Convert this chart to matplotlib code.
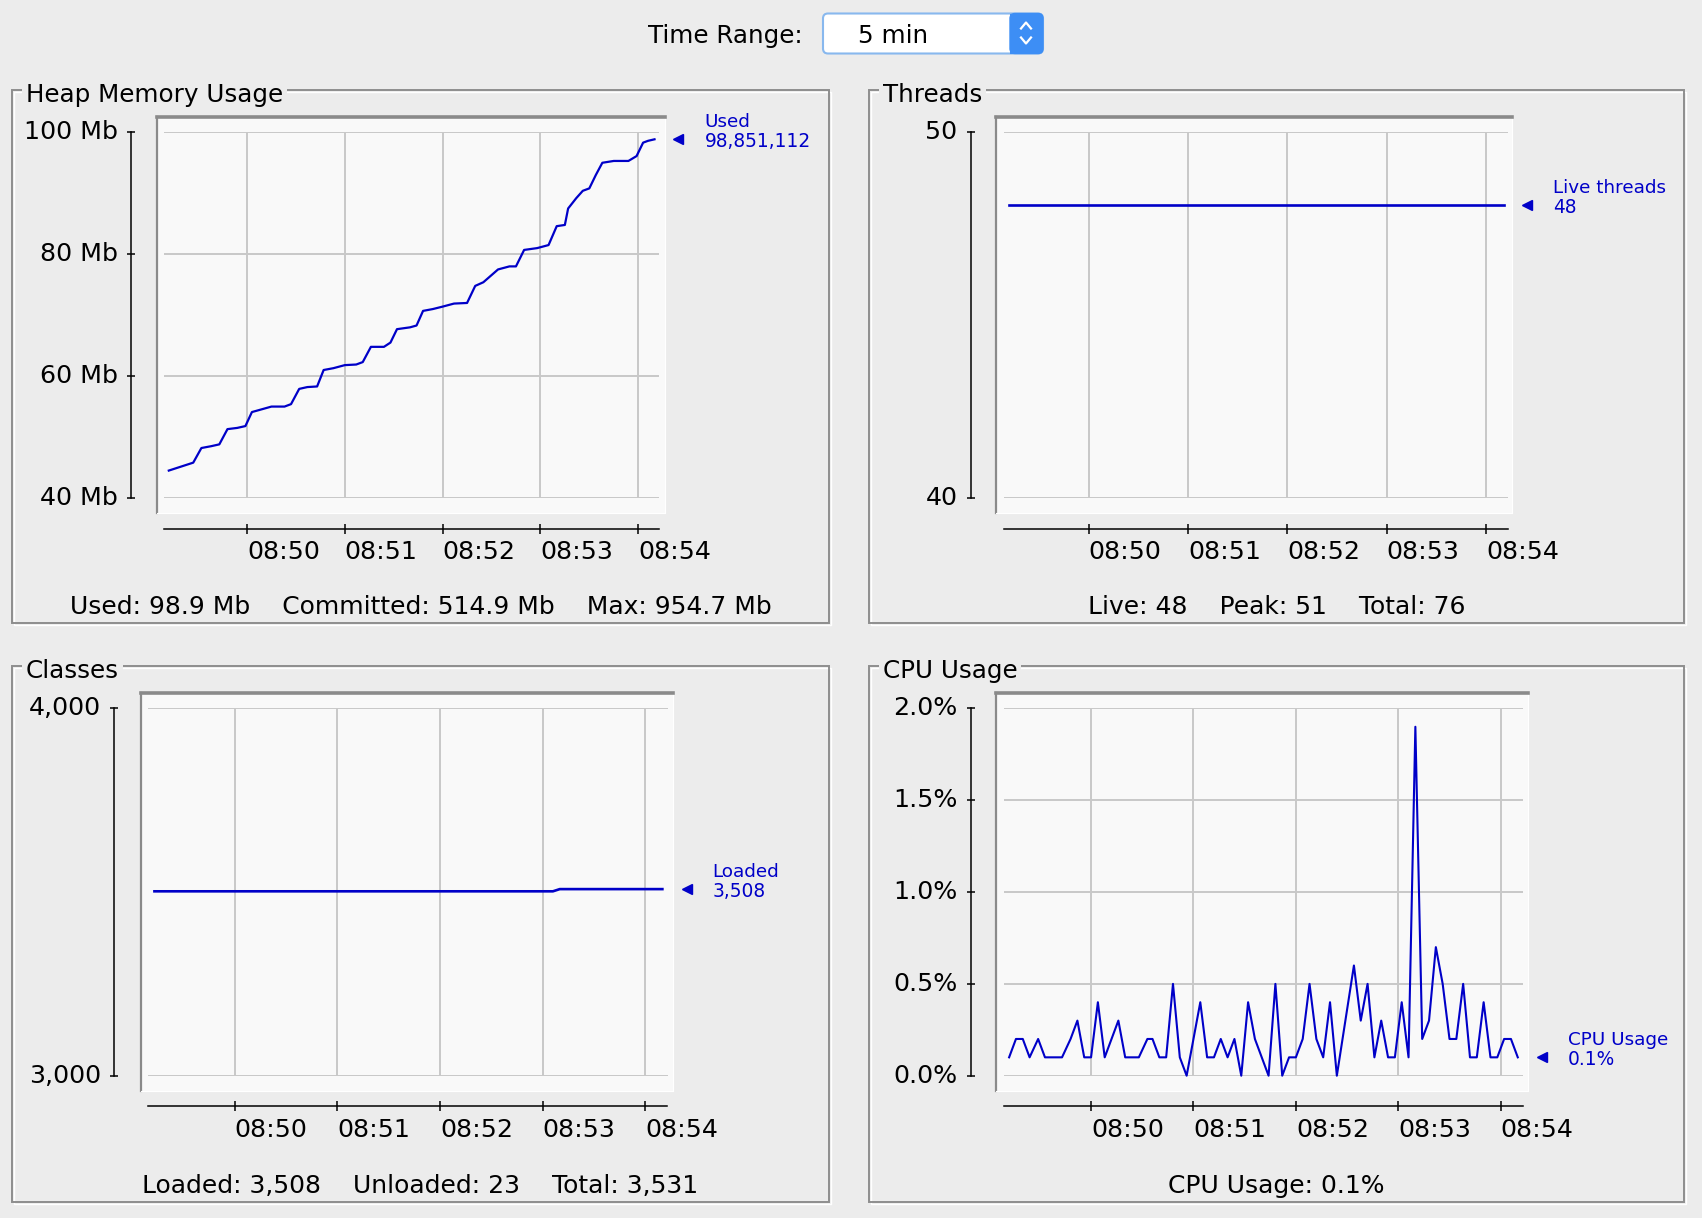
import pandas as pd
import matplotlib
matplotlib.use('Agg')
import matplotlib.pyplot as plt
from matplotlib import transforms
from matplotlib.patches import Rectangle, FancyBboxPatch
from matplotlib.lines import Line2D

plt.rcParams['font.family'] = ['DejaVu Sans']

# time axis: seconds after 08:49:00
day = '2024-01-01 '
t_start = pd.Timestamp(day + '08:49:00')
minute_ticks = ['08:50', '08:51', '08:52', '08:53', '08:54']
x_range = [9, 313]
time_range = '5 min'

# heap memory used (Mb)
heap_sec = [12, 27, 32, 38, 43, 48, 54, 59, 63, 75,
            83, 87, 92, 97, 103, 107, 113, 120, 127, 131,
            136, 144, 148, 152, 160, 164, 168, 174, 180, 187,
            195, 200, 205, 214, 221, 225, 230, 238, 245, 250,
            255, 257, 262, 266, 270, 274, 278, 285, 294, 299,
            303, 306, 310]
heap_mb = [44.5, 45.8, 48.2, 48.5, 48.8, 51.3, 51.5, 51.8, 54.1, 55.0,
           55.0, 55.4, 57.9, 58.2, 58.3, 61.0, 61.3, 61.8, 61.9, 62.3,
           64.8, 64.8, 65.5, 67.7, 68.0, 68.3, 70.7, 71.0, 71.4, 71.9,
           72.0, 74.8, 75.4, 77.5, 78.0, 78.0, 80.7, 81.0, 81.5, 84.6,
           84.8, 87.5, 89.2, 90.4, 90.8, 93.0, 95.0, 95.3, 95.3, 96.1,
           98.3, 98.6, 98.85]
heap_used_bytes = 98851112
heap_used, heap_committed, heap_max = 98.9, 514.9, 954.7

# threads
threads_sec = [12, 311]
threads_live = [48, 48]
threads_peak, threads_total = 51, 76

# classes
classes_sec = [13, 246, 250, 310]
classes_loaded = [3502, 3502, 3508, 3508]
classes_unloaded, classes_total = 23, 3531

# cpu usage (%)
cpu_sec = [12, 16, 20, 24, 29, 33, 43, 48, 52, 56,
           60, 64, 68, 72, 76, 80, 88, 93, 96, 100,
           104, 108, 112, 116, 120, 124, 128, 132, 136, 140,
           144, 148, 152, 156, 160, 164, 168, 172, 176, 180,
           184, 188, 192, 196, 200, 204, 214, 218, 222, 226,
           230, 234, 238, 242, 246, 250, 254, 258, 262, 266,
           270, 274, 278, 282, 286, 290, 294, 298, 302, 306, 310]
cpu_pct = [0.1, 0.2, 0.2, 0.1, 0.2, 0.1, 0.1, 0.2, 0.3, 0.1,
           0.1, 0.4, 0.1, 0.2, 0.3, 0.1, 0.1, 0.2, 0.2, 0.1,
           0.1, 0.5, 0.1, 0.0, 0.2, 0.4, 0.1, 0.1, 0.2, 0.1,
           0.2, 0.0, 0.4, 0.2, 0.1, 0.0, 0.5, 0.0, 0.1, 0.1,
           0.2, 0.5, 0.2, 0.1, 0.4, 0.0, 0.6, 0.3, 0.5, 0.1,
           0.3, 0.1, 0.1, 0.4, 0.1, 1.9, 0.2, 0.3, 0.7, 0.5,
           0.2, 0.2, 0.5, 0.1, 0.1, 0.4, 0.1, 0.1, 0.2, 0.2, 0.1]

W, H = 1702, 1218
BG = '#ececec'
BLUE = '#0000c8'
FS = 17.7      # titles
TICK_FS = 18.2
SUM_FS = 18

fig = plt.figure(figsize=(W / 100, H / 100), dpi=100, facecolor=BG)
# pixel coords, y measured from the top
px = transforms.Affine2D().scale(1 / W, -1 / H).translate(0, 1) + fig.transFigure


def frect(x0, y0, x1, y1):
    return [x0 / W, 1 - y1 / H, (x1 - x0) / W, (y1 - y0) / H]


def to_time(sec):
    return t_start + pd.to_timedelta(sec, unit='s')


def panel(box, title, bg_box, ax_box, summary, ylim, yticks, yfmt):
    x0, y0, x1, y1 = box
    fig.add_artist(Rectangle((x0 + 1.5, y0 + 1.5), x1 - x0, y1 - y0, transform=px,
                             fill=False, ec='white', lw=1))
    fig.add_artist(Rectangle((x0, y0), x1 - x0, y1 - y0, transform=px,
                             fill=False, ec='#8e8e8e', lw=1.4))
    fig.text(x0 + 14, y0 + 12, title, transform=px, fontsize=FS, va='baseline',
             bbox=dict(fc=BG, ec='none', boxstyle='square,pad=0.15'))
    fig.text((x0 + x1) / 2, y1 - 9, summary, transform=px, fontsize=SUM_FS,
             ha='center', va='baseline')

    bg = fig.add_axes(frect(*bg_box))
    bg.set_facecolor('#f9f9f9')
    bg.set_xticks([])
    bg.set_yticks([])
    for s in ['right', 'bottom']:
        bg.spines[s].set_color('white')
    bg.spines['top'].set(color='#8a8a8a', lw=2.6)
    bg.spines['left'].set(color='#8a8a8a', lw=1.6)

    ax = fig.add_axes(frect(*ax_box))
    ax.set_facecolor('none')
    for s in ['top', 'right']:
        ax.spines[s].set_visible(False)
    ax.spines['left'].set_position(('outward', 24))
    ax.spines['bottom'].set_position(('outward', 22))
    for s in ['left', 'bottom']:
        ax.spines[s].set_linewidth(1.1)
    ax.set_xlim(to_time(x_range[0]), to_time(x_range[1]))
    ax.set_ylim(*ylim)
    ax.set_yticks(yticks, labels=[yfmt(v) for v in yticks], va='center')
    ax.set_xticks([pd.Timestamp(day + m) for m in minute_ticks], labels=minute_ticks, ha='left')
    ax.tick_params(axis='both', direction='inout', width=1.1, labelsize=TICK_FS, color='black')
    ax.tick_params(axis='y', length=6, pad=6.4)
    ax.tick_params(axis='x', length=7.2, pad=4.6)
    ax.grid(True, color='#c8c8c8', lw=1.4)
    ax.set_axisbelow(True)
    return ax


def legend(ax, val, name, value_text):
    base = transforms.blended_transform_factory(ax.transAxes, ax.transData)
    ax.plot([1], [val], linestyle='none', marker='<', ms=7, color=BLUE, clip_on=False,
            transform=transforms.offset_copy(base, fig=fig, x=19, y=0, units='dots'))
    ax.text(1, val, value_text, color=BLUE, fontsize=13.4, va='center_baseline',
            transform=transforms.offset_copy(base, fig=fig, x=45, y=0, units='dots'))
    ax.text(1, val, name, color=BLUE, fontsize=13.2, va='center_baseline',
            transform=transforms.offset_copy(base, fig=fig, x=45, y=19, units='dots'))


# time range selector
fig.text(648, 42.5, 'Time Range:', transform=px, fontsize=FS, va='baseline')
fig.add_artist(FancyBboxPatch((823, 13.5), 220, 40, boxstyle='round,pad=0,rounding_size=5',
                              transform=px, fc='white', ec='#88b8ee', lw=1.5))
fig.add_artist(FancyBboxPatch((1010, 13.5), 33, 40, boxstyle='round,pad=0,rounding_size=5',
                              transform=px, fc='#3d8ef5', ec='#3d8ef5', lw=1))
fig.add_artist(Rectangle((1010, 13.5), 8, 40, transform=px, fc='#3d8ef5', ec='none'))
fig.add_artist(Line2D([1021, 1026, 1031], [28.5, 22.5, 28.5], transform=px, color='white', lw=1.6))
fig.add_artist(Line2D([1021, 1026, 1031], [37.5, 43.5, 37.5], transform=px, color='white', lw=1.6))
fig.text(857.5, 42.7, time_range, transform=px, fontsize=FS, va='baseline')

# heap
ax = panel((12, 90, 829, 623), 'Heap Memory Usage', (157.4, 116.7, 664.8, 512.7),
           (163.9, 132.3, 659.4, 498),
           f'Used: {heap_used} Mb    Committed: {heap_committed} Mb    Max: {heap_max} Mb',
           (40, 100), [40, 60, 80, 100], lambda v: f'{v:.0f} Mb')
ax.plot(to_time(heap_sec), heap_mb, color=BLUE, lw=1.6, clip_on=False)
legend(ax, heap_mb[-1], 'Used', f'{heap_used_bytes:,}')

# threads
ax = panel((869, 90, 1684, 623), 'Threads', (996.4, 116.7, 1512, 512.7),
           (1004, 132.3, 1507.7, 498),
           f'Live: {threads_live[-1]}    Peak: {threads_peak}    Total: {threads_total}',
           (40, 50), [40, 50], lambda v: f'{v:.0f}')
ax.plot(to_time(threads_sec), threads_live, color=BLUE, lw=1.9, clip_on=False)
legend(ax, threads_live[-1], 'Live threads', f'{threads_live[-1]}')

# classes
ax = panel((12, 666, 829, 1202), 'Classes', (141.1, 692.9, 673, 1090.5),
           (147.6, 708.4, 667.5, 1075.7),
           f'Loaded: {classes_loaded[-1]:,}    Unloaded: {classes_unloaded}    Total: {classes_total:,}',
           (3000, 4000), [3000, 4000], lambda v: f'{v:,.0f}')
ax.plot(to_time(classes_sec), classes_loaded, color=BLUE, lw=1.9, clip_on=False)
legend(ax, classes_loaded[-1], 'Loaded', f'{classes_loaded[-1]:,}')

# cpu
ax = panel((869, 666, 1684, 1202), 'CPU Usage', (996.4, 692.9, 1528.3, 1090.5),
           (1004, 708.4, 1522.9, 1075.7),
           f'CPU Usage: {cpu_pct[-1]}%',
           (0, 2), [0, 0.5, 1.0, 1.5, 2.0], lambda v: f'{v:.1f}%')
ax.plot(to_time(cpu_sec), cpu_pct, color=BLUE, lw=1.5, clip_on=False)
legend(ax, cpu_pct[-1], 'CPU Usage', f'{cpu_pct[-1]}%')

fig.savefig('out.png', dpi=100, facecolor=BG)
